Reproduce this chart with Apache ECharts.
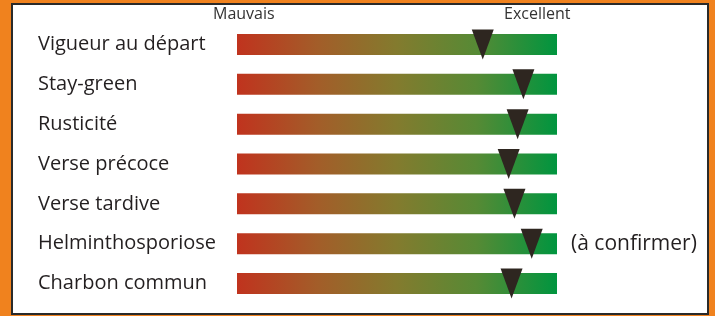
<!DOCTYPE html>
<html>
<head>
<meta charset="utf-8">
<script src="https://cdn.jsdelivr.net/npm/echarts@6/dist/echarts.min.js"></script>
<style>html,body{margin:0;padding:0;background:#F0821E;}#c{width:715px;height:316px;}</style>
</head>
<body>
<div id="c"></div>
<script>
var categories = ['Vigueur au départ','Stay-green','Rusticité','Verse précoce','Verse tardive','Helminthosporiose','Charbon commun'];
var scores = [7.68, 8.95, 8.77, 8.49, 8.67, 9.21, 8.58];
var scaleMax = 10;
var scaleLabels = ['Mauvais', 'Excellent'];
var notes = ['', '', '', '', '', '(à confirmer)', ''];

var chart = echarts.init(document.getElementById('c'), null, {renderer:'canvas'});
var grad = new echarts.graphic.LinearGradient(0,0,1,0,[
  {offset:0, color:'#C0331E'},
  {offset:0.25, color:'#A35D29'},
  {offset:0.5, color:'#837B2E'},
  {offset:0.75, color:'#568A35'},
  {offset:1, color:'#00953F'}
]);
var font = '"Open Sans", sans-serif';
chart.setOption({
  backgroundColor:'#F0821E',
  animation:false,
  graphic:[
    {type:'rect', z:-10, shape:{x:12,y:4,width:696,height:310}, style:{fill:'#ffffff', stroke:'#2a2a2a', lineWidth:2}},
    {type:'text', left:213, top:6, style:{text:scaleLabels[0], font:'16px "Open Sans", sans-serif', fill:'#333'}},
    {type:'text', left:504, top:6, style:{text:scaleLabels[1], font:'16px "Open Sans", sans-serif', fill:'#333'}}
  ],
  grid:{left:237, right:158, top:24.6, bottom:12.6, containLabel:false},
  xAxis:{type:'value', min:0, max:scaleMax, show:false},
  yAxis:{type:'category', data:categories, inverse:true,
    axisLine:{show:false}, axisTick:{show:false}, splitLine:{show:false},
    axisLabel:{align:'left', margin:199, fontFamily:font, fontSize:20, color:'#231F20', padding:[0,0,6,0]}},
  series:[
    {type:'bar', barWidth:21, silent:true,
      data:categories.map(function(c,i){
        var d = {value:scaleMax};
        if (notes[i]) d.label = {show:true, position:'right', distance:14, formatter:notes[i], fontFamily:font, fontSize:21, color:'#231F20'};
        return d;
      }),
      itemStyle:{color:grad}},
    {type:'scatter', symbol:'triangle', symbolRotate:180, symbolSize:[22,30], z:5, silent:true,
      itemStyle:{color:'#2E2620', opacity:1},
      data:scores.map(function(v,i){return [v, categories[i]];})}
  ]
});
</script>
</body>
</html>
